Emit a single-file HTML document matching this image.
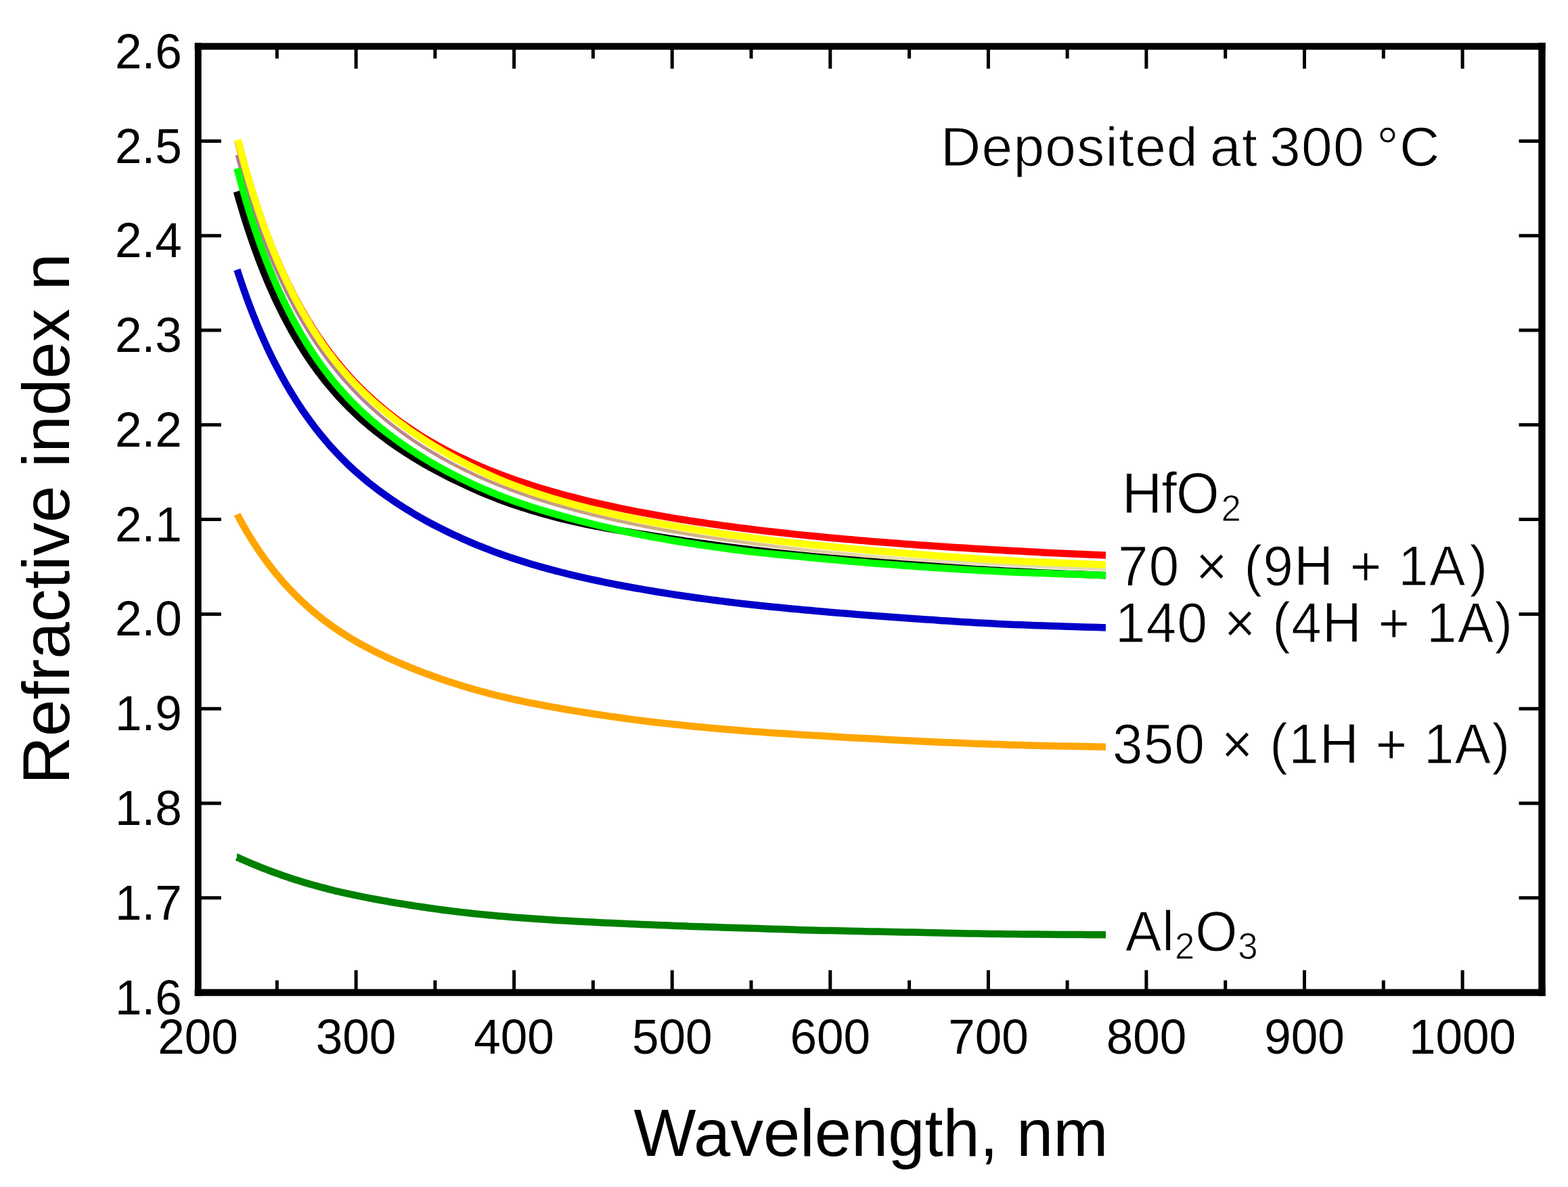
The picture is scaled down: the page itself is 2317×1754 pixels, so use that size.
<!DOCTYPE html>
<html><head><meta charset="utf-8"><style>
html,body{margin:0;padding:0;background:#fff;overflow:hidden;}
svg{display:block;}
text{font-family:"Liberation Sans",Arial,sans-serif;fill:#000;}
</style></head><body>
<svg width="2317" height="1754" viewBox="0 0 2317 1754">
<rect width="2317" height="1754" fill="#fff"/>
<defs><linearGradient id="mg" gradientUnits="userSpaceOnUse" x1="350" y1="0" x2="1634" y2="0">
<stop offset="0" stop-color="#b07898"/><stop offset="0.27" stop-color="#c09088"/><stop offset="0.5" stop-color="#d0b080"/><stop offset="0.75" stop-color="#e8e0b0"/><stop offset="1" stop-color="#e0dcb0"/></linearGradient></defs>
<g fill="none" stroke-linecap="butt" stroke-linejoin="round">
<path d="M351.5,208.0 L351.6,208.4 L351.8,209.3 L352.2,210.6 L352.6,212.4 L353.2,214.6 L353.8,217.1 L354.6,220.0 L355.4,223.2 L356.4,226.7 L357.4,230.5 L358.5,234.6 L359.7,238.9 L360.9,243.5 L362.3,248.3 L363.7,253.3 L365.2,258.5 L366.8,263.9 L368.5,269.5 L370.2,275.3 L372.0,281.2 L373.9,287.2 L375.8,293.4 L377.9,299.6 L380.0,306.0 L382.1,312.5 L384.4,319.0 L386.7,325.6 L389.1,332.3 L391.5,339.0 L394.0,345.8 L396.6,352.6 L399.3,359.4 L402.0,366.3 L404.8,373.1 L407.6,379.9 L410.6,386.8 L413.6,393.6 L416.6,400.4 L419.7,407.2 L422.9,414.0 L426.2,420.7 L429.5,427.3 L432.8,434.0 L436.3,440.6 L439.8,447.1 L443.3,453.6 L447.0,460.0 L450.7,466.3 L454.4,472.6 L458.2,478.8 L462.1,485.0 L466.0,491.1 L470.0,497.1 L474.1,503.0 L478.2,508.8 L482.4,514.6 L486.6,520.3 L490.9,525.9 L495.3,531.5 L499.7,536.9 L504.1,542.3 L508.7,547.6 L513.3,552.8 L517.9,558.0 L522.6,563.0 L527.4,568.0 L532.2,572.9 L537.1,577.7 L542.1,582.5 L547.1,587.1 L552.1,591.7 L557.2,596.2 L562.4,600.6 L567.6,605.0 L572.9,609.3 L578.3,613.5 L583.7,617.6 L589.1,621.7 L594.6,625.7 L600.2,629.6 L605.8,633.4 L611.5,637.2 L617.2,640.9 L623.0,644.6 L628.9,648.2 L634.8,651.7 L640.7,655.1 L646.7,658.5 L652.8,661.9 L658.9,665.1 L665.1,668.4 L671.3,671.5 L677.6,674.6 L684.0,677.6 L690.4,680.6 L696.8,683.6 L703.3,686.4 L709.9,689.3 L716.5,692.0 L723.1,694.8 L729.8,697.4 L736.6,700.1 L743.4,702.6 L750.3,705.2 L757.2,707.7 L764.2,710.1 L771.3,712.5 L778.3,714.8 L785.5,717.2 L792.7,719.4 L799.9,721.7 L807.2,723.8 L814.6,726.0 L822.0,728.1 L829.4,730.2 L836.9,732.2 L844.5,734.2 L852.1,736.2 L859.8,738.1 L867.5,740.0 L875.3,741.8 L883.1,743.7 L890.9,745.4 L898.9,747.2 L906.8,748.9 L914.9,750.6 L922.9,752.3 L931.1,753.9 L939.2,755.6 L947.5,757.1 L955.7,758.7 L964.1,760.2 L972.4,761.7 L980.9,763.2 L989.3,764.6 L997.9,766.1 L1006.5,767.5 L1015.1,768.8 L1023.8,770.2 L1032.5,771.5 L1041.3,772.8 L1050.1,774.1 L1059.0,775.3 L1067.9,776.6 L1076.9,777.8 L1085.9,779.0 L1095.0,780.2 L1104.1,781.3 L1113.3,782.5 L1122.6,783.6 L1131.8,784.7 L1141.2,785.7 L1150.5,786.8 L1160.0,787.8 L1169.4,788.9 L1179.0,789.9 L1188.5,790.9 L1198.1,791.8 L1207.8,792.8 L1217.5,793.7 L1227.3,794.7 L1237.1,795.6 L1247.0,796.5 L1256.9,797.3 L1266.9,798.2 L1276.9,799.1 L1286.9,799.9 L1297.0,800.7 L1307.2,801.5 L1317.4,802.3 L1327.6,803.1 L1337.9,803.9 L1348.3,804.6 L1358.7,805.4 L1369.1,806.1 L1379.6,806.8 L1390.2,807.5 L1400.7,808.2 L1411.4,808.9 L1422.1,809.6 L1432.8,810.3 L1443.6,810.9 L1454.4,811.6 L1465.3,812.2 L1476.2,812.8 L1487.2,813.4 L1498.2,814.1 L1509.2,814.6 L1520.3,815.2 L1531.5,815.8 L1542.7,816.4 L1553.9,816.9 L1565.2,817.5 L1576.6,818.0 L1588.0,818.6 L1599.4,819.1 L1610.9,819.6 L1622.4,820.1 L1634.0,820.6" stroke="#ff0000" stroke-width="10.5"/>
<path d="M349.9,229.0 L350.0,229.3 L350.3,230.2 L350.6,231.5 L351.1,233.2 L351.6,235.3 L352.3,237.7 L353.0,240.4 L353.9,243.4 L354.8,246.8 L355.8,250.4 L356.9,254.2 L358.1,258.4 L359.4,262.7 L360.8,267.3 L362.2,272.1 L363.7,277.1 L365.3,282.3 L366.9,287.6 L368.7,293.1 L370.5,298.7 L372.4,304.5 L374.3,310.4 L376.4,316.5 L378.5,322.6 L380.6,328.8 L382.9,335.1 L385.2,341.5 L387.6,348.0 L390.0,354.5 L392.5,361.0 L395.1,367.6 L397.8,374.2 L400.5,380.9 L403.3,387.5 L406.2,394.2 L409.1,400.9 L412.1,407.5 L415.1,414.2 L418.3,420.8 L421.5,427.4 L424.7,434.0 L428.0,440.6 L431.4,447.1 L434.8,453.6 L438.3,460.0 L441.9,466.4 L445.5,472.8 L449.2,479.1 L453.0,485.3 L456.8,491.5 L460.7,497.6 L464.6,503.6 L468.6,509.6 L472.7,515.5 L476.8,521.4 L481.0,527.2 L485.2,532.8 L489.5,538.5 L493.9,544.0 L498.3,549.4 L502.8,554.8 L507.3,560.1 L511.9,565.3 L516.6,570.4 L521.3,575.5 L526.1,580.5 L530.9,585.4 L535.8,590.2 L540.7,594.9 L545.7,599.6 L550.8,604.2 L555.9,608.7 L561.1,613.2 L566.3,617.6 L571.6,621.9 L577.0,626.2 L582.4,630.4 L587.9,634.5 L593.4,638.6 L599.0,642.6 L604.6,646.6 L610.3,650.5 L616.0,654.3 L621.8,658.1 L627.7,661.8 L633.6,665.4 L639.5,669.0 L645.6,672.5 L651.6,676.0 L657.8,679.4 L663.9,682.8 L670.2,686.1 L676.5,689.4 L682.8,692.6 L689.2,695.7 L695.7,698.8 L702.2,701.9 L708.7,704.9 L715.4,707.8 L722.0,710.7 L728.8,713.5 L735.5,716.3 L742.4,719.0 L749.3,721.7 L756.2,724.3 L763.2,726.9 L770.2,729.4 L777.3,731.9 L784.5,734.3 L791.7,736.7 L798.9,739.0 L806.2,741.3 L813.6,743.6 L821.0,745.8 L828.5,748.0 L836.0,750.1 L843.6,752.2 L851.2,754.3 L858.8,756.3 L866.6,758.3 L874.3,760.3 L882.2,762.2 L890.0,764.1 L898.0,766.0 L906.0,767.9 L914.0,769.7 L922.1,771.4 L930.2,773.2 L938.4,774.9 L946.6,776.6 L954.9,778.2 L963.3,779.8 L971.6,781.4 L980.1,783.0 L988.6,784.5 L997.1,786.0 L1005.7,787.4 L1014.3,788.9 L1023.0,790.3 L1031.8,791.7 L1040.6,793.1 L1049.4,794.4 L1058.3,795.7 L1067.2,797.0 L1076.2,798.3 L1085.3,799.5 L1094.4,800.8 L1103.5,802.0 L1112.7,803.2 L1121.9,804.4 L1131.2,805.6 L1140.6,806.8 L1149.9,807.9 L1159.4,809.1 L1168.9,810.2 L1178.4,811.3 L1188.0,812.4 L1197.6,813.4 L1207.3,814.4 L1217.0,815.4 L1226.8,816.4 L1236.6,817.3 L1246.5,818.3 L1256.4,819.2 L1266.4,820.1 L1276.4,821.0 L1286.5,821.8 L1296.6,822.7 L1306.8,823.5 L1317.0,824.3 L1327.3,825.1 L1337.6,825.9 L1347.9,826.6 L1358.4,827.4 L1368.8,828.1 L1379.3,828.7 L1389.9,829.4 L1400.5,830.0 L1411.1,830.6 L1421.8,831.3 L1432.5,831.9 L1443.3,832.5 L1454.2,833.1 L1465.1,833.6 L1476.0,834.2 L1487.0,834.8 L1498.0,835.4 L1509.1,835.9 L1520.2,836.5 L1531.4,837.0 L1542.6,837.5 L1553.8,838.0 L1565.2,838.5 L1576.5,839.0 L1587.9,839.4 L1599.4,839.9 L1610.9,840.4 L1622.4,840.8 L1634.0,841.3" stroke="url(#mg)" stroke-width="5"/>
<path d="M351.4,206.5 L351.5,206.9 L351.8,207.8 L352.1,209.2 L352.6,210.9 L353.1,213.1 L353.8,215.7 L354.5,218.6 L355.4,221.8 L356.3,225.3 L357.3,229.1 L358.4,233.2 L359.6,237.6 L360.9,242.2 L362.2,247.0 L363.7,252.0 L365.2,257.3 L366.8,262.7 L368.4,268.4 L370.1,274.2 L372.0,280.1 L373.8,286.2 L375.8,292.4 L377.8,298.7 L379.9,305.1 L382.1,311.7 L384.3,318.3 L386.7,324.9 L389.0,331.7 L391.5,338.5 L394.0,345.3 L396.6,352.2 L399.2,359.0 L402.0,366.0 L404.8,372.9 L407.6,379.8 L410.5,386.7 L413.5,393.6 L416.6,400.5 L419.7,407.4 L422.9,414.2 L426.1,421.0 L429.4,427.8 L432.8,434.5 L436.2,441.2 L439.7,447.9 L443.3,454.4 L446.9,461.0 L450.6,467.4 L454.4,473.8 L458.2,480.1 L462.0,486.4 L466.0,492.6 L470.0,498.7 L474.0,504.8 L478.2,510.7 L482.3,516.6 L486.6,522.3 L490.9,528.0 L495.2,533.6 L499.6,539.1 L504.1,544.4 L508.6,549.7 L513.2,555.0 L517.9,560.1 L522.6,565.1 L527.4,570.1 L532.2,574.9 L537.1,579.7 L542.0,584.4 L547.0,589.0 L552.1,593.6 L557.2,598.1 L562.4,602.5 L567.6,606.8 L572.9,611.1 L578.2,615.4 L583.6,619.6 L589.1,623.7 L594.6,627.8 L600.2,631.9 L605.8,635.9 L611.5,639.8 L617.2,643.7 L623.0,647.5 L628.8,651.3 L634.7,655.0 L640.7,658.7 L646.7,662.3 L652.8,665.8 L658.9,669.4 L665.1,672.8 L671.3,676.3 L677.6,679.7 L683.9,683.0 L690.3,686.3 L696.8,689.6 L703.3,692.8 L709.8,696.0 L716.4,699.1 L723.1,702.1 L729.8,705.1 L736.6,708.0 L743.4,710.8 L750.3,713.6 L757.2,716.3 L764.2,718.9 L771.2,721.5 L778.3,724.1 L785.5,726.5 L792.7,728.9 L799.9,731.3 L807.2,733.6 L814.6,735.9 L822.0,738.1 L829.4,740.3 L836.9,742.4 L844.5,744.5 L852.1,746.6 L859.8,748.6 L867.5,750.6 L875.2,752.5 L883.0,754.4 L890.9,756.2 L898.8,758.0 L906.8,759.8 L914.8,761.6 L922.9,763.3 L931.0,765.0 L939.2,766.7 L947.4,768.3 L955.7,769.9 L964.0,771.5 L972.4,773.1 L980.8,774.6 L989.3,776.2 L997.9,777.7 L1006.4,779.1 L1015.1,780.6 L1023.8,782.0 L1032.5,783.4 L1041.3,784.8 L1050.1,786.1 L1059.0,787.5 L1067.9,788.8 L1076.9,790.0 L1085.9,791.3 L1095.0,792.5 L1104.1,793.8 L1113.3,794.9 L1122.5,796.1 L1131.8,797.3 L1141.1,798.4 L1150.5,799.5 L1159.9,800.6 L1169.4,801.6 L1178.9,802.7 L1188.5,803.7 L1198.1,804.7 L1207.8,805.7 L1217.5,806.7 L1227.3,807.7 L1237.1,808.7 L1247.0,809.6 L1256.9,810.6 L1266.8,811.5 L1276.9,812.4 L1286.9,813.3 L1297.0,814.2 L1307.2,815.0 L1317.4,815.9 L1327.6,816.7 L1337.9,817.6 L1348.3,818.4 L1358.7,819.3 L1369.1,820.1 L1379.6,820.9 L1390.2,821.7 L1400.7,822.5 L1411.4,823.3 L1422.1,824.1 L1432.8,824.8 L1443.6,825.5 L1454.4,826.2 L1465.3,826.9 L1476.2,827.5 L1487.1,828.1 L1498.2,828.7 L1509.2,829.3 L1520.3,829.8 L1531.5,830.3 L1542.7,830.8 L1553.9,831.3 L1565.2,831.7 L1576.6,832.2 L1588.0,832.6 L1599.4,833.1 L1610.9,833.5 L1622.4,834.0 L1634.0,834.4" stroke="#ffff00" stroke-width="10.5"/>
<path d="M349.9,283.0 L350.0,283.3 L350.2,284.2 L350.6,285.4 L351.0,287.0 L351.6,289.0 L352.2,291.3 L353.0,294.0 L353.8,296.9 L354.8,300.1 L355.8,303.6 L356.9,307.3 L358.1,311.2 L359.3,315.4 L360.7,319.8 L362.1,324.4 L363.6,329.1 L365.2,334.1 L366.9,339.2 L368.6,344.4 L370.4,349.8 L372.3,355.3 L374.3,361.0 L376.3,366.7 L378.4,372.5 L380.6,378.4 L382.8,384.4 L385.1,390.4 L387.5,396.5 L390.0,402.7 L392.5,408.9 L395.1,415.1 L397.7,421.3 L400.5,427.5 L403.3,433.8 L406.1,440.1 L409.0,446.3 L412.0,452.5 L415.1,458.8 L418.2,465.0 L421.4,471.1 L424.6,477.3 L428.0,483.4 L431.3,489.5 L434.8,495.5 L438.3,501.5 L441.8,507.4 L445.5,513.3 L449.2,519.1 L452.9,524.8 L456.7,530.5 L460.6,536.2 L464.6,541.8 L468.6,547.3 L472.6,552.7 L476.7,558.1 L480.9,563.4 L485.2,568.6 L489.5,573.7 L493.8,578.8 L498.2,583.8 L502.7,588.7 L507.3,593.5 L511.9,598.3 L516.5,603.0 L521.2,607.6 L526.0,612.1 L530.8,616.6 L535.7,621.0 L540.7,625.3 L545.7,629.6 L550.8,633.7 L555.9,637.9 L561.1,641.9 L566.3,645.9 L571.6,649.8 L576.9,653.7 L582.3,657.5 L587.8,661.3 L593.3,665.0 L598.9,668.6 L604.5,672.2 L610.2,675.8 L616.0,679.3 L621.8,682.7 L627.6,686.1 L633.5,689.4 L639.5,692.7 L645.5,696.0 L651.6,699.2 L657.7,702.3 L663.9,705.5 L670.1,708.6 L676.4,711.6 L682.8,714.6 L689.2,717.6 L695.6,720.6 L702.1,723.5 L708.7,726.3 L715.3,729.1 L722.0,731.8 L728.7,734.5 L735.5,737.2 L742.3,739.7 L749.2,742.2 L756.1,744.7 L763.1,747.0 L770.2,749.4 L777.3,751.6 L784.4,753.9 L791.6,756.0 L798.9,758.1 L806.2,760.2 L813.6,762.2 L821.0,764.2 L828.4,766.1 L835.9,767.9 L843.5,769.7 L851.1,771.5 L858.8,773.2 L866.5,774.8 L874.3,776.4 L882.1,777.9 L890.0,779.4 L897.9,780.8 L905.9,782.2 L914.0,783.6 L922.0,784.9 L930.2,786.3 L938.4,787.6 L946.6,789.0 L954.9,790.3 L963.2,791.7 L971.6,793.0 L980.1,794.3 L988.5,795.7 L997.1,797.0 L1005.7,798.3 L1014.3,799.6 L1023.0,800.8 L1031.7,802.1 L1040.5,803.3 L1049.4,804.5 L1058.3,805.7 L1067.2,806.9 L1076.2,808.1 L1085.2,809.2 L1094.3,810.4 L1103.5,811.5 L1112.7,812.6 L1121.9,813.7 L1131.2,814.8 L1140.5,815.9 L1149.9,816.9 L1159.4,818.0 L1168.8,819.0 L1178.4,820.0 L1188.0,821.0 L1197.6,821.9 L1207.3,822.9 L1217.0,823.8 L1226.8,824.7 L1236.6,825.6 L1246.5,826.4 L1256.4,827.3 L1266.4,828.1 L1276.4,829.0 L1286.5,829.8 L1296.6,830.6 L1306.8,831.4 L1317.0,832.1 L1327.3,832.9 L1337.6,833.7 L1347.9,834.5 L1358.3,835.2 L1368.8,836.0 L1379.3,836.8 L1389.9,837.5 L1400.5,838.3 L1411.1,839.0 L1421.8,839.8 L1432.5,840.5 L1443.3,841.2 L1454.2,841.8 L1465.1,842.5 L1476.0,843.1 L1487.0,843.7 L1498.0,844.2 L1509.1,844.8 L1520.2,845.3 L1531.4,845.9 L1542.6,846.4 L1553.8,846.9 L1565.2,847.4 L1576.5,847.9 L1587.9,848.3 L1599.4,848.8 L1610.9,849.3 L1622.4,849.7 L1634.0,850.2" stroke="#000000" stroke-width="10.5"/>
<path d="M350.4,249.0 L350.5,249.4 L350.7,250.2 L351.1,251.6 L351.5,253.3 L352.1,255.4 L352.8,257.9 L353.5,260.7 L354.4,263.9 L355.3,267.3 L356.3,271.0 L357.4,275.0 L358.6,279.2 L359.9,283.7 L361.2,288.4 L362.6,293.3 L364.1,298.4 L365.7,303.7 L367.4,309.1 L369.1,314.7 L370.9,320.5 L372.8,326.4 L374.8,332.4 L376.8,338.5 L378.9,344.8 L381.1,351.1 L383.3,357.5 L385.6,364.0 L388.0,370.5 L390.5,377.1 L393.0,383.7 L395.6,390.3 L398.2,397.0 L401.0,403.7 L403.8,410.4 L406.6,417.1 L409.5,423.8 L412.5,430.4 L415.6,437.1 L418.7,443.7 L421.9,450.3 L425.1,456.9 L428.5,463.4 L431.8,469.9 L435.3,476.4 L438.8,482.8 L442.3,489.1 L446.0,495.4 L449.7,501.6 L453.4,507.8 L457.2,513.9 L461.1,519.9 L465.0,525.8 L469.0,531.7 L473.1,537.5 L477.2,543.3 L481.4,548.9 L485.6,554.4 L489.9,559.9 L494.3,565.3 L498.7,570.5 L503.2,575.7 L507.7,580.8 L512.3,585.8 L517.0,590.8 L521.7,595.6 L526.5,600.4 L531.3,605.1 L536.2,609.7 L541.1,614.2 L546.1,618.6 L551.2,623.0 L556.3,627.3 L561.5,631.6 L566.7,635.7 L572.0,639.9 L577.4,643.9 L582.8,647.9 L588.2,651.9 L593.8,655.8 L599.3,659.6 L605.0,663.5 L610.6,667.2 L616.4,670.9 L622.2,674.5 L628.0,678.1 L633.9,681.6 L639.9,685.1 L645.9,688.5 L652.0,691.9 L658.1,695.2 L664.3,698.5 L670.5,701.7 L676.8,704.9 L683.2,708.0 L689.6,711.1 L696.0,714.2 L702.5,717.2 L709.1,720.1 L715.7,723.0 L722.4,725.9 L729.1,728.7 L735.9,731.4 L742.7,734.1 L749.6,736.7 L756.5,739.2 L763.5,741.7 L770.5,744.1 L777.6,746.5 L784.8,748.9 L792.0,751.2 L799.2,753.4 L806.5,755.6 L813.9,757.8 L821.3,759.9 L828.8,762.0 L836.3,764.1 L843.8,766.1 L851.5,768.2 L859.1,770.1 L866.8,772.1 L874.6,774.0 L882.4,776.0 L890.3,777.8 L898.2,779.7 L906.2,781.5 L914.3,783.3 L922.3,785.1 L930.5,786.8 L938.6,788.5 L946.9,790.2 L955.2,791.8 L963.5,793.4 L971.9,794.9 L980.3,796.4 L988.8,797.9 L997.3,799.3 L1005.9,800.7 L1014.6,802.1 L1023.3,803.4 L1032.0,804.8 L1040.8,806.1 L1049.6,807.4 L1058.5,808.6 L1067.4,809.8 L1076.4,811.0 L1085.5,812.2 L1094.6,813.4 L1103.7,814.5 L1112.9,815.6 L1122.1,816.6 L1131.4,817.6 L1140.7,818.5 L1150.1,819.4 L1159.6,820.3 L1169.0,821.2 L1178.6,822.1 L1188.2,823.0 L1197.8,824.0 L1207.5,824.9 L1217.2,825.8 L1227.0,826.7 L1236.8,827.6 L1246.7,828.5 L1256.6,829.4 L1266.5,830.2 L1276.6,831.1 L1286.6,831.9 L1296.8,832.7 L1306.9,833.5 L1317.1,834.3 L1327.4,835.1 L1337.7,835.9 L1348.0,836.6 L1358.5,837.4 L1368.9,838.1 L1379.4,838.8 L1390.0,839.5 L1400.5,840.1 L1411.2,840.8 L1421.9,841.4 L1432.6,842.0 L1443.4,842.7 L1454.2,843.2 L1465.1,843.8 L1476.1,844.4 L1487.0,844.9 L1498.0,845.4 L1509.1,845.9 L1520.2,846.3 L1531.4,846.7 L1542.6,847.1 L1553.9,847.5 L1565.2,847.9 L1576.5,848.3 L1587.9,848.6 L1599.4,849.0 L1610.9,849.3 L1622.4,849.7 L1634.0,850.1" stroke="#00ff00" stroke-width="10.5"/>
<path d="M350.4,398.5 L350.5,398.8 L350.7,399.5 L351.0,400.6 L351.5,402.0 L352.1,403.7 L352.7,405.7 L353.5,408.0 L354.3,410.5 L355.2,413.3 L356.3,416.3 L357.4,419.6 L358.6,423.0 L359.8,426.7 L361.2,430.5 L362.6,434.5 L364.1,438.7 L365.7,443.0 L367.3,447.5 L369.1,452.1 L370.9,456.9 L372.8,461.8 L374.7,466.7 L376.8,471.8 L378.9,477.0 L381.0,482.2 L383.3,487.5 L385.6,492.9 L388.0,498.4 L390.4,503.8 L393.0,509.4 L395.5,515.0 L398.2,520.6 L400.9,526.2 L403.7,531.8 L406.6,537.5 L409.5,543.2 L412.5,548.8 L415.5,554.5 L418.7,560.2 L421.8,565.8 L425.1,571.4 L428.4,577.0 L431.8,582.6 L435.2,588.1 L438.7,593.7 L442.3,599.1 L445.9,604.6 L449.6,610.0 L453.4,615.3 L457.2,620.6 L461.1,625.9 L465.0,631.1 L469.0,636.3 L473.1,641.4 L477.2,646.4 L481.4,651.4 L485.6,656.3 L489.9,661.2 L494.3,665.9 L498.7,670.7 L503.2,675.3 L507.7,679.9 L512.3,684.4 L516.9,688.9 L521.7,693.3 L526.4,697.6 L531.3,701.8 L536.2,706.0 L541.1,710.1 L546.1,714.2 L551.2,718.2 L556.3,722.1 L561.5,726.0 L566.7,729.8 L572.0,733.6 L577.3,737.3 L582.7,740.9 L588.2,744.6 L593.7,748.1 L599.3,751.7 L604.9,755.1 L610.6,758.6 L616.3,762.0 L622.1,765.3 L628.0,768.6 L633.9,771.8 L639.9,775.0 L645.9,778.1 L651.9,781.2 L658.1,784.3 L664.3,787.3 L670.5,790.2 L676.8,793.1 L683.1,796.0 L689.5,798.8 L696.0,801.6 L702.5,804.3 L709.0,807.0 L715.7,809.6 L722.3,812.2 L729.1,814.8 L735.8,817.3 L742.7,819.7 L749.5,822.1 L756.5,824.4 L763.5,826.7 L770.5,829.0 L777.6,831.2 L784.7,833.4 L791.9,835.5 L799.2,837.6 L806.5,839.6 L813.9,841.6 L821.3,843.6 L828.7,845.5 L836.2,847.4 L843.8,849.3 L851.4,851.1 L859.1,852.9 L866.8,854.6 L874.6,856.3 L882.4,858.0 L890.3,859.7 L898.2,861.3 L906.2,862.9 L914.2,864.5 L922.3,866.0 L930.4,867.5 L938.6,869.0 L946.9,870.4 L955.1,871.9 L963.5,873.3 L971.9,874.7 L980.3,876.0 L988.8,877.4 L997.3,878.7 L1005.9,880.0 L1014.5,881.2 L1023.2,882.5 L1032.0,883.7 L1040.8,884.9 L1049.6,886.1 L1058.5,887.2 L1067.4,888.4 L1076.4,889.5 L1085.5,890.6 L1094.5,891.7 L1103.7,892.7 L1112.9,893.7 L1122.1,894.8 L1131.4,895.7 L1140.7,896.7 L1150.1,897.6 L1159.5,898.5 L1169.0,899.4 L1178.6,900.3 L1188.1,901.2 L1197.8,902.1 L1207.4,902.9 L1217.2,903.8 L1226.9,904.7 L1236.8,905.5 L1246.6,906.3 L1256.6,907.1 L1266.5,907.9 L1276.6,908.7 L1286.6,909.5 L1296.7,910.3 L1306.9,911.0 L1317.1,911.8 L1327.4,912.5 L1337.7,913.3 L1348.0,914.0 L1358.4,914.7 L1368.9,915.4 L1379.4,916.1 L1389.9,916.9 L1400.5,917.6 L1411.2,918.2 L1421.9,918.9 L1432.6,919.6 L1443.4,920.2 L1454.2,920.8 L1465.1,921.3 L1476.0,921.9 L1487.0,922.4 L1498.0,922.9 L1509.1,923.3 L1520.2,923.8 L1531.4,924.2 L1542.6,924.6 L1553.9,925.0 L1565.2,925.3 L1576.5,925.7 L1587.9,926.0 L1599.4,926.4 L1610.9,926.7 L1622.4,927.1 L1634.0,927.5" stroke="#0000c8" stroke-width="10.5"/>
<path d="M350.5,760.0 L350.6,760.2 L350.8,760.6 L351.1,761.3 L351.6,762.1 L352.2,763.2 L352.8,764.4 L353.6,765.8 L354.4,767.4 L355.3,769.1 L356.4,770.9 L357.5,772.9 L358.6,775.1 L359.9,777.3 L361.3,779.7 L362.7,782.1 L364.2,784.7 L365.8,787.4 L367.4,790.1 L369.2,793.0 L371.0,795.9 L372.9,798.9 L374.8,802.0 L376.9,805.1 L379.0,808.3 L381.1,811.6 L383.4,814.9 L385.7,818.2 L388.1,821.6 L390.5,825.1 L393.0,828.5 L395.6,832.0 L398.3,835.5 L401.0,839.0 L403.8,842.6 L406.7,846.1 L409.6,849.7 L412.6,853.2 L415.6,856.8 L418.8,860.4 L421.9,863.9 L425.2,867.5 L428.5,871.0 L431.9,874.5 L435.3,878.1 L438.8,881.6 L442.4,885.0 L446.0,888.5 L449.7,891.9 L453.5,895.4 L457.3,898.7 L461.1,902.1 L465.1,905.4 L469.1,908.7 L473.1,912.0 L477.3,915.3 L481.4,918.5 L485.7,921.6 L490.0,924.7 L494.3,927.8 L498.8,930.8 L503.2,933.8 L507.8,936.7 L512.4,939.6 L517.0,942.5 L521.7,945.3 L526.5,948.1 L531.3,950.8 L536.2,953.5 L541.2,956.2 L546.2,958.8 L551.2,961.4 L556.4,963.9 L561.5,966.4 L566.8,968.9 L572.1,971.4 L577.4,973.9 L582.8,976.3 L588.3,978.7 L593.8,981.1 L599.4,983.4 L605.0,985.8 L610.7,988.1 L616.4,990.4 L622.2,992.6 L628.1,994.8 L634.0,997.0 L639.9,999.2 L646.0,1001.3 L652.0,1003.5 L658.1,1005.5 L664.3,1007.6 L670.6,1009.6 L676.9,1011.6 L683.2,1013.5 L689.6,1015.5 L696.1,1017.4 L702.6,1019.2 L709.1,1021.0 L715.7,1022.8 L722.4,1024.6 L729.1,1026.3 L735.9,1028.0 L742.7,1029.6 L749.6,1031.2 L756.5,1032.8 L763.5,1034.3 L770.6,1035.9 L777.7,1037.3 L784.8,1038.8 L792.0,1040.2 L799.3,1041.6 L806.6,1043.0 L813.9,1044.4 L821.3,1045.7 L828.8,1047.0 L836.3,1048.3 L843.9,1049.6 L851.5,1050.8 L859.2,1052.1 L866.9,1053.3 L874.6,1054.5 L882.5,1055.7 L890.3,1056.9 L898.3,1058.1 L906.3,1059.2 L914.3,1060.3 L922.4,1061.5 L930.5,1062.6 L938.7,1063.6 L946.9,1064.7 L955.2,1065.7 L963.5,1066.7 L971.9,1067.7 L980.3,1068.6 L988.8,1069.6 L997.4,1070.5 L1006.0,1071.4 L1014.6,1072.3 L1023.3,1073.2 L1032.0,1074.0 L1040.8,1074.8 L1049.6,1075.7 L1058.5,1076.5 L1067.5,1077.3 L1076.5,1078.0 L1085.5,1078.8 L1094.6,1079.5 L1103.7,1080.3 L1112.9,1081.0 L1122.1,1081.6 L1131.4,1082.3 L1140.8,1082.9 L1150.1,1083.5 L1159.6,1084.1 L1169.1,1084.7 L1178.6,1085.3 L1188.2,1085.9 L1197.8,1086.5 L1207.5,1087.1 L1217.2,1087.6 L1227.0,1088.2 L1236.8,1088.8 L1246.7,1089.4 L1256.6,1090.0 L1266.6,1090.5 L1276.6,1091.1 L1286.6,1091.6 L1296.8,1092.1 L1306.9,1092.7 L1317.1,1093.2 L1327.4,1093.7 L1337.7,1094.2 L1348.1,1094.7 L1358.5,1095.2 L1368.9,1095.7 L1379.4,1096.2 L1390.0,1096.7 L1400.6,1097.2 L1411.2,1097.6 L1421.9,1098.1 L1432.6,1098.5 L1443.4,1098.9 L1454.2,1099.3 L1465.1,1099.7 L1476.1,1100.1 L1487.0,1100.4 L1498.1,1100.8 L1509.1,1101.1 L1520.2,1101.4 L1531.4,1101.7 L1542.6,1101.9 L1553.9,1102.2 L1565.2,1102.4 L1576.5,1102.6 L1587.9,1102.8 L1599.4,1103.1 L1610.9,1103.3 L1622.4,1103.5 L1634.0,1103.8" stroke="#ffa500" stroke-width="10.5"/>
<path d="M350.0,1266.5 L350.1,1266.5 L350.3,1266.6 L350.7,1266.8 L351.1,1267.0 L351.7,1267.3 L352.4,1267.6 L353.1,1267.9 L353.9,1268.3 L354.9,1268.7 L355.9,1269.2 L357.0,1269.6 L358.2,1270.2 L359.5,1270.7 L360.8,1271.3 L362.2,1272.0 L363.7,1272.6 L365.3,1273.3 L367.0,1274.0 L368.7,1274.8 L370.5,1275.5 L372.4,1276.3 L374.4,1277.1 L376.4,1278.0 L378.5,1278.8 L380.7,1279.7 L382.9,1280.6 L385.2,1281.6 L387.6,1282.5 L390.1,1283.5 L392.6,1284.4 L395.2,1285.4 L397.9,1286.5 L400.6,1287.5 L403.4,1288.5 L406.2,1289.6 L409.2,1290.6 L412.1,1291.7 L415.2,1292.8 L418.3,1293.9 L421.5,1295.0 L424.8,1296.1 L428.1,1297.2 L431.4,1298.3 L434.9,1299.4 L438.4,1300.5 L442.0,1301.6 L445.6,1302.7 L449.3,1303.9 L453.0,1305.0 L456.9,1306.1 L460.7,1307.2 L464.7,1308.3 L468.7,1309.4 L472.7,1310.5 L476.8,1311.6 L481.0,1312.7 L485.3,1313.8 L489.6,1314.9 L493.9,1316.0 L498.4,1317.0 L502.8,1318.1 L507.4,1319.1 L512.0,1320.1 L516.6,1321.2 L521.3,1322.2 L526.1,1323.2 L531.0,1324.2 L535.8,1325.2 L540.8,1326.1 L545.8,1327.1 L550.9,1328.1 L556.0,1329.0 L561.2,1330.0 L566.4,1330.9 L571.7,1331.8 L577.0,1332.8 L582.4,1333.7 L587.9,1334.6 L593.4,1335.5 L599.0,1336.4 L604.6,1337.3 L610.3,1338.2 L616.1,1339.1 L621.9,1340.0 L627.7,1340.8 L633.6,1341.7 L639.6,1342.5 L645.6,1343.4 L651.7,1344.2 L657.8,1345.0 L664.0,1345.8 L670.2,1346.6 L676.5,1347.3 L682.9,1348.1 L689.3,1348.8 L695.7,1349.5 L702.2,1350.2 L708.8,1350.9 L715.4,1351.5 L722.1,1352.2 L728.8,1352.8 L735.6,1353.4 L742.4,1354.0 L749.3,1354.6 L756.2,1355.2 L763.2,1355.7 L770.3,1356.3 L777.4,1356.8 L784.5,1357.3 L791.7,1357.8 L799.0,1358.3 L806.3,1358.8 L813.6,1359.3 L821.0,1359.7 L828.5,1360.2 L836.0,1360.6 L843.6,1361.0 L851.2,1361.4 L858.9,1361.8 L866.6,1362.2 L874.4,1362.6 L882.2,1363.0 L890.1,1363.4 L898.0,1363.7 L906.0,1364.1 L914.0,1364.4 L922.1,1364.8 L930.2,1365.2 L938.4,1365.5 L946.7,1365.9 L954.9,1366.2 L963.3,1366.5 L971.7,1366.9 L980.1,1367.2 L988.6,1367.6 L997.1,1367.9 L1005.7,1368.2 L1014.4,1368.6 L1023.1,1368.9 L1031.8,1369.2 L1040.6,1369.5 L1049.4,1369.8 L1058.3,1370.1 L1067.3,1370.4 L1076.3,1370.7 L1085.3,1371.0 L1094.4,1371.3 L1103.5,1371.5 L1112.7,1371.8 L1122.0,1372.1 L1131.2,1372.4 L1140.6,1372.7 L1150.0,1373.0 L1159.4,1373.3 L1168.9,1373.6 L1178.4,1373.9 L1188.0,1374.2 L1197.6,1374.4 L1207.3,1374.7 L1217.1,1374.9 L1226.8,1375.1 L1236.7,1375.3 L1246.5,1375.6 L1256.5,1375.8 L1266.4,1376.0 L1276.5,1376.2 L1286.5,1376.4 L1296.6,1376.6 L1306.8,1376.8 L1317.0,1377.0 L1327.3,1377.2 L1337.6,1377.4 L1348.0,1377.6 L1358.4,1377.8 L1368.8,1378.0 L1379.3,1378.2 L1389.9,1378.5 L1400.5,1378.7 L1411.1,1378.9 L1421.8,1379.2 L1432.6,1379.4 L1443.3,1379.6 L1454.2,1379.7 L1465.1,1379.9 L1476.0,1380.1 L1487.0,1380.2 L1498.0,1380.3 L1509.1,1380.4 L1520.2,1380.5 L1531.4,1380.6 L1542.6,1380.7 L1553.8,1380.8 L1565.2,1380.9 L1576.5,1381.0 L1587.9,1381.0 L1599.4,1381.1 L1610.9,1381.2 L1622.4,1381.3 L1634.0,1381.3" stroke="#008000" stroke-width="10.5"/>
</g>
<g stroke="#000" stroke-width="5"><line x1="409.3" y1="1466.6" x2="409.3" y2="1448.6"/><line x1="409.3" y1="68.5" x2="409.3" y2="86.5"/><line x1="526.1" y1="1466.6" x2="526.1" y2="1433.6"/><line x1="526.1" y1="68.5" x2="526.1" y2="101.5"/><line x1="642.9" y1="1466.6" x2="642.9" y2="1448.6"/><line x1="642.9" y1="68.5" x2="642.9" y2="86.5"/><line x1="759.6" y1="1466.6" x2="759.6" y2="1433.6"/><line x1="759.6" y1="68.5" x2="759.6" y2="101.5"/><line x1="876.4" y1="1466.6" x2="876.4" y2="1448.6"/><line x1="876.4" y1="68.5" x2="876.4" y2="86.5"/><line x1="993.2" y1="1466.6" x2="993.2" y2="1433.6"/><line x1="993.2" y1="68.5" x2="993.2" y2="101.5"/><line x1="1110.0" y1="1466.6" x2="1110.0" y2="1448.6"/><line x1="1110.0" y1="68.5" x2="1110.0" y2="86.5"/><line x1="1226.8" y1="1466.6" x2="1226.8" y2="1433.6"/><line x1="1226.8" y1="68.5" x2="1226.8" y2="101.5"/><line x1="1343.6" y1="1466.6" x2="1343.6" y2="1448.6"/><line x1="1343.6" y1="68.5" x2="1343.6" y2="86.5"/><line x1="1460.4" y1="1466.6" x2="1460.4" y2="1433.6"/><line x1="1460.4" y1="68.5" x2="1460.4" y2="101.5"/><line x1="1577.1" y1="1466.6" x2="1577.1" y2="1448.6"/><line x1="1577.1" y1="68.5" x2="1577.1" y2="86.5"/><line x1="1693.9" y1="1466.6" x2="1693.9" y2="1433.6"/><line x1="1693.9" y1="68.5" x2="1693.9" y2="101.5"/><line x1="1810.7" y1="1466.6" x2="1810.7" y2="1448.6"/><line x1="1810.7" y1="68.5" x2="1810.7" y2="86.5"/><line x1="1927.5" y1="1466.6" x2="1927.5" y2="1433.6"/><line x1="1927.5" y1="68.5" x2="1927.5" y2="101.5"/><line x1="2044.3" y1="1466.6" x2="2044.3" y2="1448.6"/><line x1="2044.3" y1="68.5" x2="2044.3" y2="86.5"/><line x1="2161.1" y1="1466.6" x2="2161.1" y2="1433.6"/><line x1="2161.1" y1="68.5" x2="2161.1" y2="101.5"/><line x1="292.8" y1="208.5" x2="326.8" y2="208.5"/><line x1="2278.5" y1="208.5" x2="2244.5" y2="208.5"/><line x1="292.8" y1="348.3" x2="326.8" y2="348.3"/><line x1="2278.5" y1="348.3" x2="2244.5" y2="348.3"/><line x1="292.8" y1="488.0" x2="326.8" y2="488.0"/><line x1="2278.5" y1="488.0" x2="2244.5" y2="488.0"/><line x1="292.8" y1="627.8" x2="326.8" y2="627.8"/><line x1="2278.5" y1="627.8" x2="2244.5" y2="627.8"/><line x1="292.8" y1="767.6" x2="326.8" y2="767.6"/><line x1="2278.5" y1="767.6" x2="2244.5" y2="767.6"/><line x1="292.8" y1="907.4" x2="326.8" y2="907.4"/><line x1="2278.5" y1="907.4" x2="2244.5" y2="907.4"/><line x1="292.8" y1="1047.2" x2="326.8" y2="1047.2"/><line x1="2278.5" y1="1047.2" x2="2244.5" y2="1047.2"/><line x1="292.8" y1="1186.9" x2="326.8" y2="1186.9"/><line x1="2278.5" y1="1186.9" x2="2244.5" y2="1186.9"/><line x1="292.8" y1="1326.7" x2="326.8" y2="1326.7"/><line x1="2278.5" y1="1326.7" x2="2244.5" y2="1326.7"/></g>
<g stroke="#000" stroke-linecap="square">
<line x1="292.8" y1="68.5" x2="292.8" y2="1466.6" stroke-width="9.8"/>
<line x1="2278.5" y1="68.5" x2="2278.5" y2="1466.6" stroke-width="10.4"/>
<line x1="292.8" y1="68.5" x2="2278.5" y2="68.5" stroke-width="10.2"/>
<line x1="292.8" y1="1466.6" x2="2278.5" y2="1466.6" stroke-width="10.3"/>
</g>
<g font-size="72.5"><text transform="translate(268.7,100.7) scale(0.98,1)" text-anchor="end">2.6</text><text transform="translate(268.7,240.5) scale(0.98,1)" text-anchor="end">2.5</text><text transform="translate(268.7,380.3) scale(0.98,1)" text-anchor="end">2.4</text><text transform="translate(268.7,520.0) scale(0.98,1)" text-anchor="end">2.3</text><text transform="translate(268.7,659.8) scale(0.98,1)" text-anchor="end">2.2</text><text transform="translate(268.7,799.6) scale(0.98,1)" text-anchor="end">2.1</text><text transform="translate(268.7,939.4) scale(0.98,1)" text-anchor="end">2.0</text><text transform="translate(268.7,1079.2) scale(0.98,1)" text-anchor="end">1.9</text><text transform="translate(268.7,1218.9) scale(0.98,1)" text-anchor="end">1.8</text><text transform="translate(268.7,1358.7) scale(0.98,1)" text-anchor="end">1.7</text><text transform="translate(268.7,1498.5) scale(0.98,1)" text-anchor="end">1.6</text><text transform="translate(292.5,1556.5) scale(0.98,1)" text-anchor="middle">200</text><text transform="translate(526.1,1556.5) scale(0.98,1)" text-anchor="middle">300</text><text transform="translate(759.6,1556.5) scale(0.98,1)" text-anchor="middle">400</text><text transform="translate(993.2,1556.5) scale(0.98,1)" text-anchor="middle">500</text><text transform="translate(1226.8,1556.5) scale(0.98,1)" text-anchor="middle">600</text><text transform="translate(1460.4,1556.5) scale(0.98,1)" text-anchor="middle">700</text><text transform="translate(1693.9,1556.5) scale(0.98,1)" text-anchor="middle">800</text><text transform="translate(1927.5,1556.5) scale(0.98,1)" text-anchor="middle">900</text><text transform="translate(2161.1,1556.5) scale(0.98,1)" text-anchor="middle">1000</text></g>
<text transform="translate(936.5,1708.2) scale(1,1)" font-size="97.5">Wavelength, nm</text>
<text transform="translate(101.5,1159) rotate(-90) scale(1,1)" font-size="98">Refractive index n</text>
<text transform="translate(1390,245) scale(1,1)" font-size="82" letter-spacing="1.3" word-spacing="-7" stroke="#fff" stroke-width="1.0">Deposited at 300 °C</text>
<text transform="translate(1658,758) scale(0.96,1)" font-size="85.3" letter-spacing="-1" stroke="#fff" stroke-width="1.0">HfO<tspan font-size="55" dx="4" dy="12">2</tspan></text>
<text transform="translate(1652,865) scale(0.96,1)" font-size="83.2" letter-spacing="1.4" stroke="#fff" stroke-width="1.0">70 × (9H + 1A<tspan dx="5">)</tspan></text>
<text transform="translate(1648,949) scale(0.96,1)" font-size="83.2" letter-spacing="1.4" stroke="#fff" stroke-width="1.0">140 × (4H + 1A)</text>
<text transform="translate(1644,1128) scale(0.96,1)" font-size="83.2" letter-spacing="1.4" stroke="#fff" stroke-width="1.0">350 × (1H + 1A)</text>
<text transform="translate(1663,1405) scale(0.96,1)" font-size="83.2" letter-spacing="1" stroke="#fff" stroke-width="1.0">Al<tspan font-size="55" dy="12">2</tspan><tspan dy="-12">O</tspan><tspan font-size="55" dy="12">3</tspan></text>
</svg>
</body></html>
